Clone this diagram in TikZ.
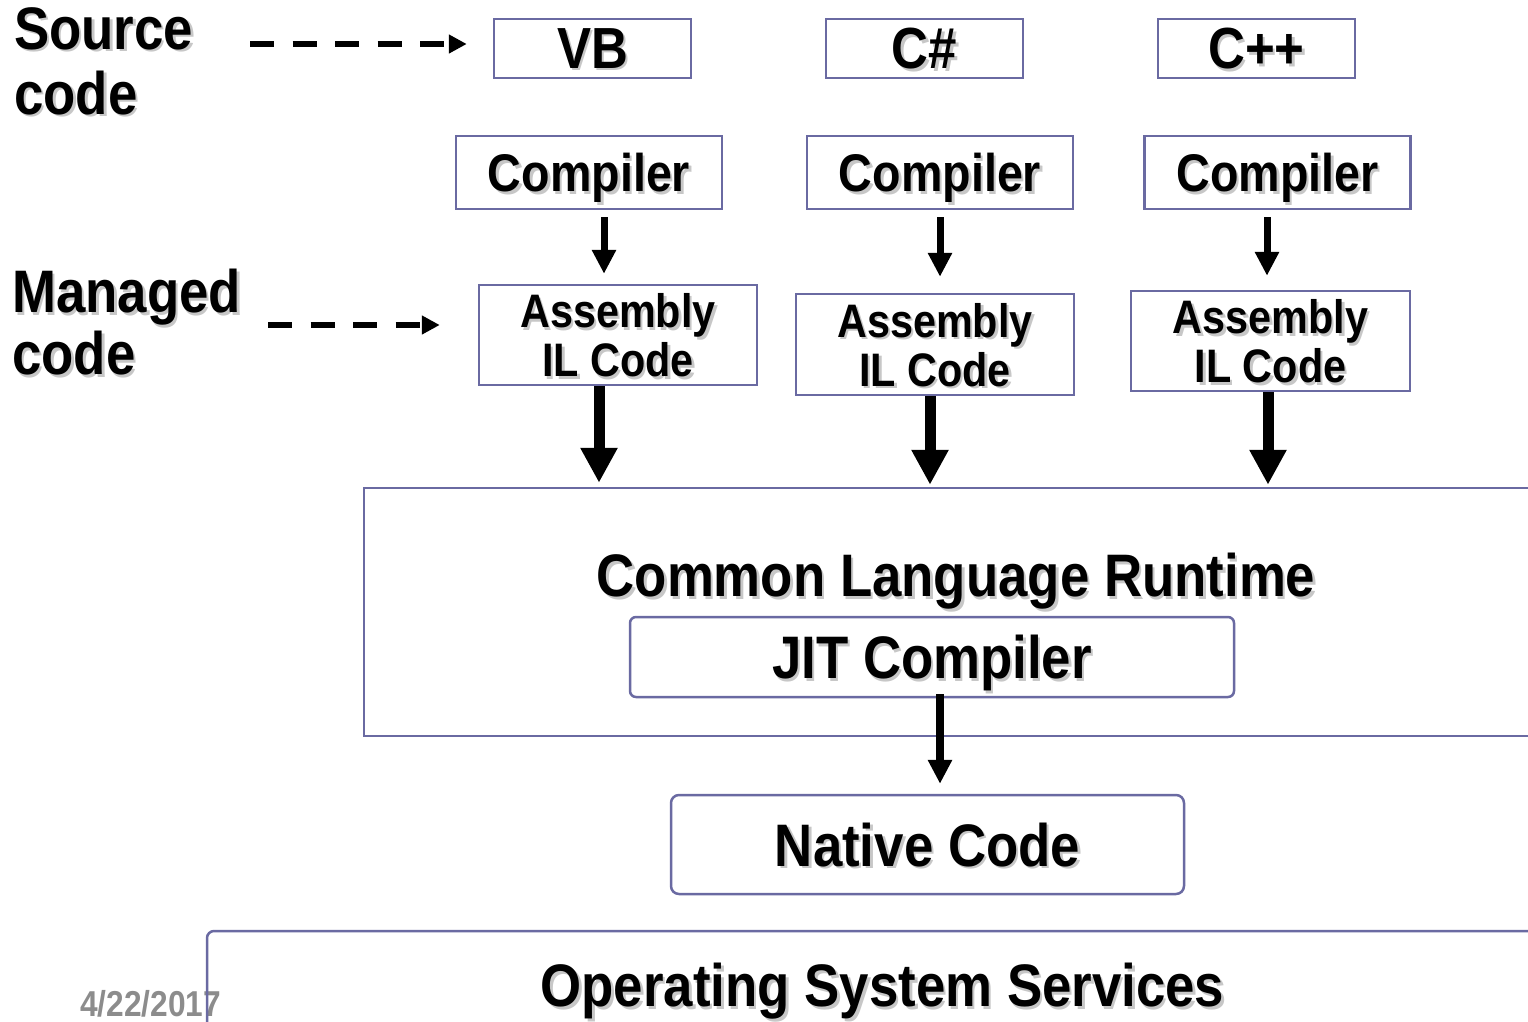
\documentclass[tikz,border=0pt]{standalone}
\usepackage{fontspec}
\setmainfont[FakeStretch=0.88]{Liberation Sans}
\usetikzlibrary{arrows.meta,calc}
\definecolor{bcol}{HTML}{6A6AA2}
\definecolor{dategray}{HTML}{8C8C8C}
\newcommand\shtxt[1]{\makebox[0pt][l]{\hspace*{2.5pt}\raisebox{-2.5pt}{\textcolor{black!22}{#1}}}#1}
\begin{document}
\begin{tikzpicture}[x=1pt,y=-1pt,
  box/.style={draw=bcol, line width=2.5pt, inner sep=0pt, text depth=0pt, align=center},
  lbl/.style={inner sep=0pt, text depth=0pt, align=center},
  fsixty/.style={font=\fontsize{60}{65}\selectfont\bfseries},
  ftop/.style={font=\fontsize{58}{62}\selectfont\bfseries},
  fcomp/.style={font=\fontsize{53}{58}\selectfont\bfseries},
  fasm/.style={font=\fontsize{47}{49}\selectfont\bfseries},
  thinarrow/.style={line width=7pt, -{Triangle[length=24pt,width=23pt]}},
  bigarrow/.style={line width=11pt, -{Triangle[length=35pt,width=35pt]}},
  jitarrow/.style={line width=8pt, -{Triangle[length=24pt,width=23pt]}},
  dasharrow/.style={line width=6pt, dash pattern=on 24pt off 18.5pt, -{Triangle[length=18pt,width=18pt]}}
]
\useasboundingbox (0,0) rectangle (1528,1021);

% left labels
\node[lbl, fsixty, align=left, anchor=west] (srclbl) at (14,61) {\shtxt{Source}\\\shtxt{code}};
\node[lbl, font=\fontsize{60}{62}\selectfont\bfseries, align=left, anchor=west] (mgdlbl) at (12,322) {\shtxt{Managed}\\\shtxt{code}};

% source boxes
\node[box, ftop, minimum width=197, minimum height=59] (vb) at (592.5,48.5) {\shtxt{VB}};
\node[box, ftop, minimum width=197, minimum height=59] (cs) at (924.5,48.5) {\shtxt{C\#}};
\node[box, ftop, minimum width=197, minimum height=59] (cpp) at (1256.5,48.5) {\shtxt{C++}};

% compilers
\node[box, fcomp, minimum width=266, minimum height=73] (comp1) at (589,172.5) {\shtxt{Compiler}};
\node[box, fcomp, minimum width=266, minimum height=73] (comp2) at (940,172.5) {\shtxt{Compiler}};
\node[box, fcomp, minimum width=266, minimum height=73] (comp3) at (1277.5,172.5) {\shtxt{Compiler}};

% assemblies
\node[box, fasm, minimum width=278, minimum height=100] (asm1) at (618,335) {\shtxt{Assembly}\\\shtxt{IL Code}};
\node[box, fasm, minimum width=278, minimum height=101] (asm2) at (935,344.5) {\shtxt{Assembly}\\\shtxt{IL Code}};
\node[box, fasm, minimum width=279, minimum height=100] (asm3) at (1270.5,341) {\shtxt{Assembly}\\\shtxt{IL Code}};

% CLR
\node[box, minimum width=1176, minimum height=248] (clr) at (952,612) {};
\node[lbl, fsixty] (clrlbl) at (956,575) {\shtxt{Common Language Runtime}};
\node[box, fsixty, rounded corners=6pt, minimum width=604, minimum height=80] (jit) at (932,657) {\shtxt{JIT Compiler}};

% native
\node[box, fsixty, rounded corners=8pt, minimum width=513, minimum height=99] (native) at (927.5,844.5) {\shtxt{Native Code}};

% date and OS
\node[lbl, font=\fontsize{36}{40}\selectfont\bfseries, text=dategray] (date) at (150.5,1003) {4/22/2017};
\node[box, rounded corners=7pt, minimum width=1333, minimum height=120] (os) at (873.5,991) {};
\node[lbl, fsixty] (oslbl) at (882.5,985) {\shtxt{Operating System Services}};

% dashed arrows
\coordinate (sd) at (250,44);
\draw[dasharrow, shorten >=26pt] (sd) -- (sd -| vb.west);
\coordinate (md) at (268,325);
\draw[dasharrow, shorten >=38pt] (md) -- (md -| asm1.west);

% compiler -> assembly
\draw[thinarrow] ($(comp1.south)+(15,7)$) -- ($(asm1.north)+(-14,-10)$);
\draw[thinarrow] ($(comp2.south)+(0,7)$) -- ($(asm2.north)+(5,-16)$);
\draw[thinarrow] ($(comp3.south)+(-10.5,7)$) -- ($(asm3.north)+(-3.5,-14)$);

% assembly -> CLR
\coordinate (b1) at ($(asm1.south)+(-19,0)$);
\coordinate (b2) at ($(asm2.south)+(-5,0)$);
\coordinate (b3) at ($(asm3.south)+(-2.5,0)$);
\draw[bigarrow, shorten >=4pt] (b1) -- (b1 |- clr.north);
\draw[bigarrow, shorten >=2pt] (b2) -- (b2 |- clr.north);
\draw[bigarrow, shorten >=2pt] (b3) -- (b3 |- clr.north);

% JIT -> native
\coordinate (j1) at ($(jit.south)+(8,-4)$);
\draw[jitarrow, shorten >=10pt] (j1) -- (j1 |- native.north);
\end{tikzpicture}
\end{document}
